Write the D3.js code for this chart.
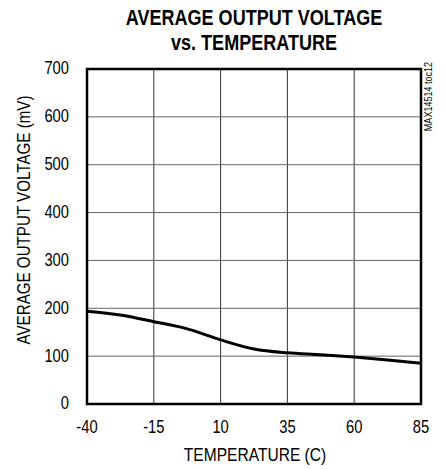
<!DOCTYPE html>
<html>
<head>
<meta charset="utf-8">
<style>
  body { margin: 0; background: #fff; }
  text { font-family: "Liberation Sans", Arial, sans-serif; fill: #000; }
</style>
</head>
<body>
<svg id="chart" width="446" height="470"></svg>
<script src="https://cdn.jsdelivr.net/npm/d3@7"></script>
<script>
// temperature (C) vs average output voltage (mV)
var temps = [-40, -27.5, -15, -2.5, 10, 22.5, 35, 47.5, 60, 72.5, 85];
var volts = [194, 186, 172, 157, 134, 115, 107, 103, 98, 92, 85];
var xTicks = [-40, -15, 10, 35, 60, 85];
var yTicks = [0, 100, 200, 300, 400, 500, 600, 700];

var mLeft = 87, mRight = 421, mTop = 69, mBottom = 404;
var narrow = 0.82;  // no narrow font installed, squeeze horizontally

var svg = d3.select('#chart');

var x = d3.scaleLinear().domain([-40, 85]).range([mLeft, mRight]);
var y = d3.scaleLinear().domain([0, 700]).range([mBottom, mTop]);

// grid
svg.append('g')
  .selectAll('line')
  .data(xTicks.slice(1, -1))
  .join('line')
  .attr('x1', d => x(d)).attr('x2', d => x(d))
  .attr('y1', mTop).attr('y2', mBottom)
  .attr('stroke', '#333').attr('stroke-width', 1);

svg.append('g')
  .selectAll('line')
  .data(yTicks.slice(1, -1))
  .join('line')
  .attr('x1', mLeft).attr('x2', mRight)
  .attr('y1', d => y(d)).attr('y2', d => y(d))
  .attr('stroke', '#666').attr('stroke-width', 1);

// curve
var line = d3.line()
  .x((d, i) => x(temps[i]))
  .y(d => y(d))
  .curve(d3.curveMonotoneX);

svg.append('path')
  .datum(volts)
  .attr('fill', 'none')
  .attr('stroke', '#000')
  .attr('stroke-width', 3)
  .attr('d', line);

// frame
svg.append('rect')
  .attr('x', mLeft).attr('y', mTop)
  .attr('width', mRight - mLeft).attr('height', mBottom - mTop)
  .attr('fill', 'none').attr('stroke', '#000').attr('stroke-width', 2.5);

// tick labels
svg.append('g')
  .selectAll('text')
  .data(yTicks)
  .join('text')
  .attr('transform', d => `translate(69,${y(d)}) scale(${narrow},1)`)
  .attr('dy', '0.3em')
  .attr('text-anchor', 'end')
  .style('font-size', '18px')
  .text(d => d);

svg.append('g')
  .selectAll('text')
  .data(xTicks)
  .join('text')
  .attr('transform', d => `translate(${x(d)},433) scale(${narrow},1)`)
  .attr('text-anchor', 'middle')
  .style('font-size', '18px')
  .text(d => d);

// axis titles
svg.append('text')
  .attr('transform', `translate(255,461) scale(${narrow},1)`)
  .attr('text-anchor', 'middle')
  .style('font-size', '19px')
  .text('TEMPERATURE (C)');

svg.append('text')
  .attr('transform', `translate(30,220) rotate(-90) scale(${narrow},1)`)
  .attr('text-anchor', 'middle')
  .style('font-size', '18.5px')
  .text('AVERAGE OUTPUT VOLTAGE (mV)');

// title
svg.append('text')
  .attr('transform', `translate(254,25) scale(${narrow},1)`)
  .attr('text-anchor', 'middle')
  .style('font-size', '22px').style('font-weight', 'bold')
  .text('AVERAGE OUTPUT VOLTAGE');

svg.append('text')
  .attr('transform', `translate(254,50) scale(${narrow},1)`)
  .attr('text-anchor', 'middle')
  .style('font-size', '22px').style('font-weight', 'bold')
  .text('vs. TEMPERATURE');

// figure tag
svg.append('text')
  .attr('transform', `translate(432,62) rotate(-90) scale(${narrow},1)`)
  .attr('text-anchor', 'end')
  .style('font-size', '11px')
  .text('MAX14514 toc12');
</script>
</body>
</html>
